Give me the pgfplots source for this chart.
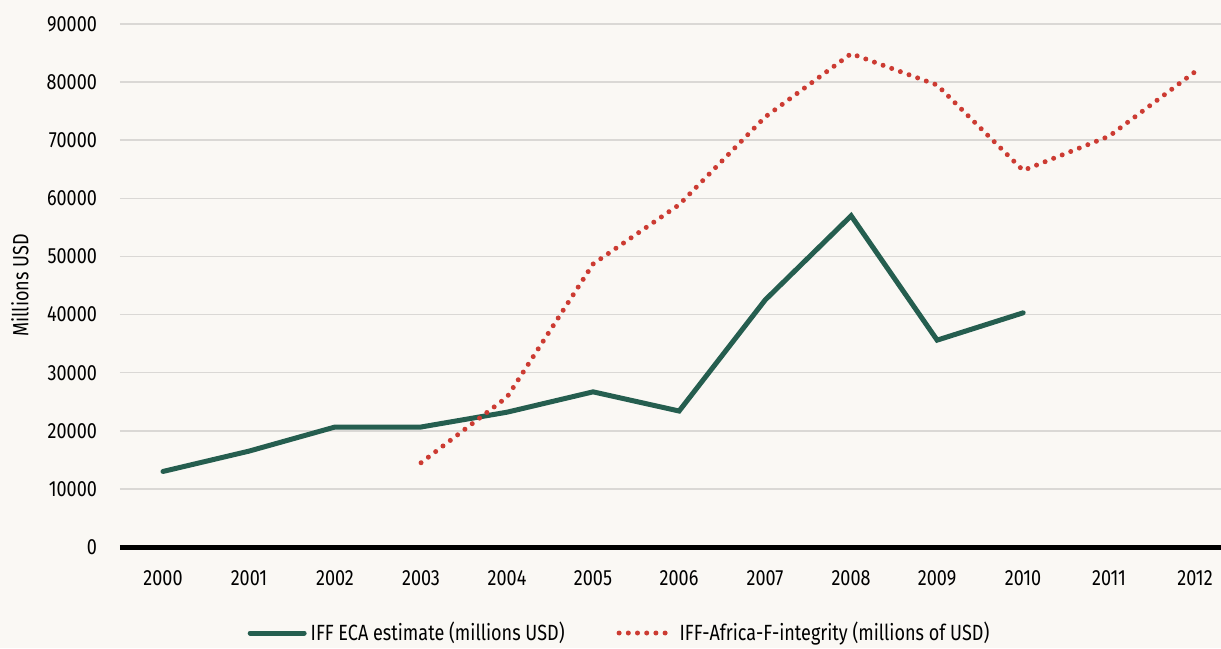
\documentclass[border=0pt]{standalone}
\usepackage{pgfplots}
\pgfplotsset{compat=1.18}
\usepackage{fontspec}
\setmainfont{Fira Sans}[FakeStretch=0.82]
\definecolor{bgc}{HTML}{FAF8F4}
\definecolor{ecagreen}{HTML}{255E4F}
\definecolor{gfired}{HTML}{CC3B32}
\definecolor{gridc}{HTML}{DAD8D5}
\begin{document}
\begin{tikzpicture}
\fill[bgc] (-60pt,-50.5pt) rectangle (550.5pt,273.5pt);
\begin{axis}[
  scale only axis,
  width=550.5pt, height=261.5pt,
  xmin=1999.5, xmax=2012.3,
  ymin=0, ymax=90000,
  axis line style={draw=none},
  xtick={2000,...,2012},
  ytick={0,10000,...,90000},
  scaled ticks=false,
  major tick length=0pt,
  ymajorgrids,
  grid style={gridc, line width=0.8pt},
  /pgf/number format/assume math mode=true,
  /pgf/number format/1000 sep={},
  tick label style={font=\fontsize{11}{13}\selectfont},
  yticklabel style={xshift=-8pt},
  xticklabel style={yshift=-8pt},
  ylabel={Millions USD},
  ylabel style={at={(axis description cs:0,0.5)}, anchor=center, yshift=50pt, font=\fontsize{11}{13}\selectfont},
  legend columns=2,
  legend style={draw=none, fill=none, at={(0.4546,0)}, anchor=center, yshift=-43pt,
    font=\fontsize{11}{13}\selectfont, /tikz/every even column/.append style={column sep=24pt},
    inner sep=0pt},
  legend image code/.code={\draw[#1] (0pt,0pt) -- (27pt,0pt);},
  clip=false,
]
\addplot[ecagreen, line width=2.5pt, line cap=round, line join=miter] coordinates {
(2000,13000) (2001,16500) (2002,20650) (2003,20650) (2004,23200) (2005,26700)
(2006,23400) (2007,42500) (2008,57000) (2009,35600) (2010,40300)};
\addlegendentry{IFF ECA estimate (millions USD)}
\addplot[gfired, line width=2.5pt, line cap=round, dash pattern=on 0pt off 4.6pt] coordinates {
(2003,14500) (2004,25800) (2005,48700) (2006,58900) (2007,74000) (2008,84900)
(2009,79500) (2010,64800) (2011,70700) (2012,81800)};
\addlegendentry{IFF-Africa-F-integrity (millions of USD)}
\draw[black, line width=2.5pt] (axis cs:1999.5,0) -- (axis cs:2012.3,0);
\end{axis}
\pgfresetboundingbox
\path[use as bounding box] (-60pt,-50.5pt) rectangle (550.5pt,273.5pt);
\end{tikzpicture}
\end{document}
